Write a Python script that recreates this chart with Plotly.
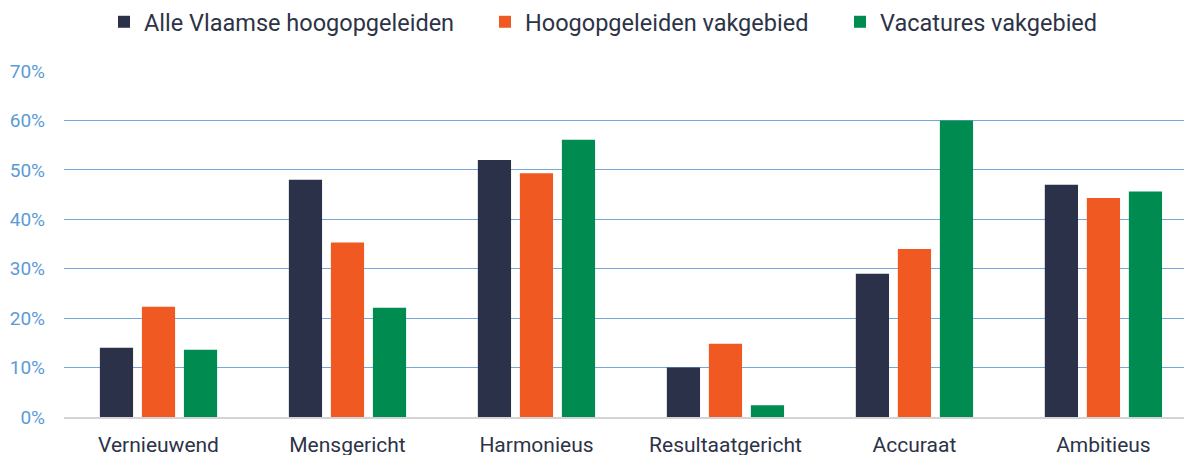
import plotly.graph_objects as go

categories = ["Vernieuwend", "Mensgericht", "Harmonieus", "Resultaatgericht", "Accuraat", "Ambitieus"]
alle_vlaamse = [14, 48, 52, 10, 29, 47]
hoog_vakgebied = [22.3, 35.3, 49.3, 14.8, 34, 44.3]
vacatures_vakgebied = [13.6, 22.1, 56.1, 2.4, 60, 45.6]
series_names = ["Alle Vlaamse hoogopgeleiden", "Hoogopgeleiden vakgebied", "Vacatures vakgebied"]
colors = ["#2a3149", "#f05a22", "#008c50"]
legend_widths = [336, 310, 260]
y_ticks = [0, 10, 20, 30, 40, 50, 60, 70]
y_tick_text = [f"{v}%" for v in y_ticks]

fig = go.Figure()
for name, vals, col, lw in zip(series_names, [alle_vlaamse, hoog_vakgebied, vacatures_vakgebied], colors, legend_widths):
    fig.add_trace(go.Bar(x=categories, y=vals, name=name, legendwidth=lw,
                         marker=dict(color=col, line=dict(width=0))))

fig.update_layout(
    width=1192, height=455,
    margin=dict(l=56, r=0, t=62, b=46),
    paper_bgcolor="white", plot_bgcolor="white",
    barmode="group", bargap=0.333, bargroupgap=0.21,
    font=dict(family="Roboto", color="#2d3347"),
    legend=dict(orientation="h", xref="container", yref="container", x=96 / 1192, xanchor="left",
                y=1 - 14 / 455, yanchor="middle", font=dict(size=23.5, color="#2d3347"),
                bgcolor="rgba(0,0,0,0)"),
    xaxis=dict(range=[-0.5, 5.511], showline=True, linecolor="#d4d4d4", linewidth=2,
               showgrid=False, ticks="", tickfont=dict(size=21, color="#2d3347"),
               ticklabelstandoff=8),
    yaxis=dict(range=[0, 70.2], tickvals=y_ticks, ticktext=y_tick_text, showgrid=True,
               gridcolor="#72a8da", gridwidth=1, zeroline=False, showline=False,
               tickfont=dict(size=19, color="#5b9bd5"), ticklabelstandoff=18),
)

fig.write_html("out.html")
